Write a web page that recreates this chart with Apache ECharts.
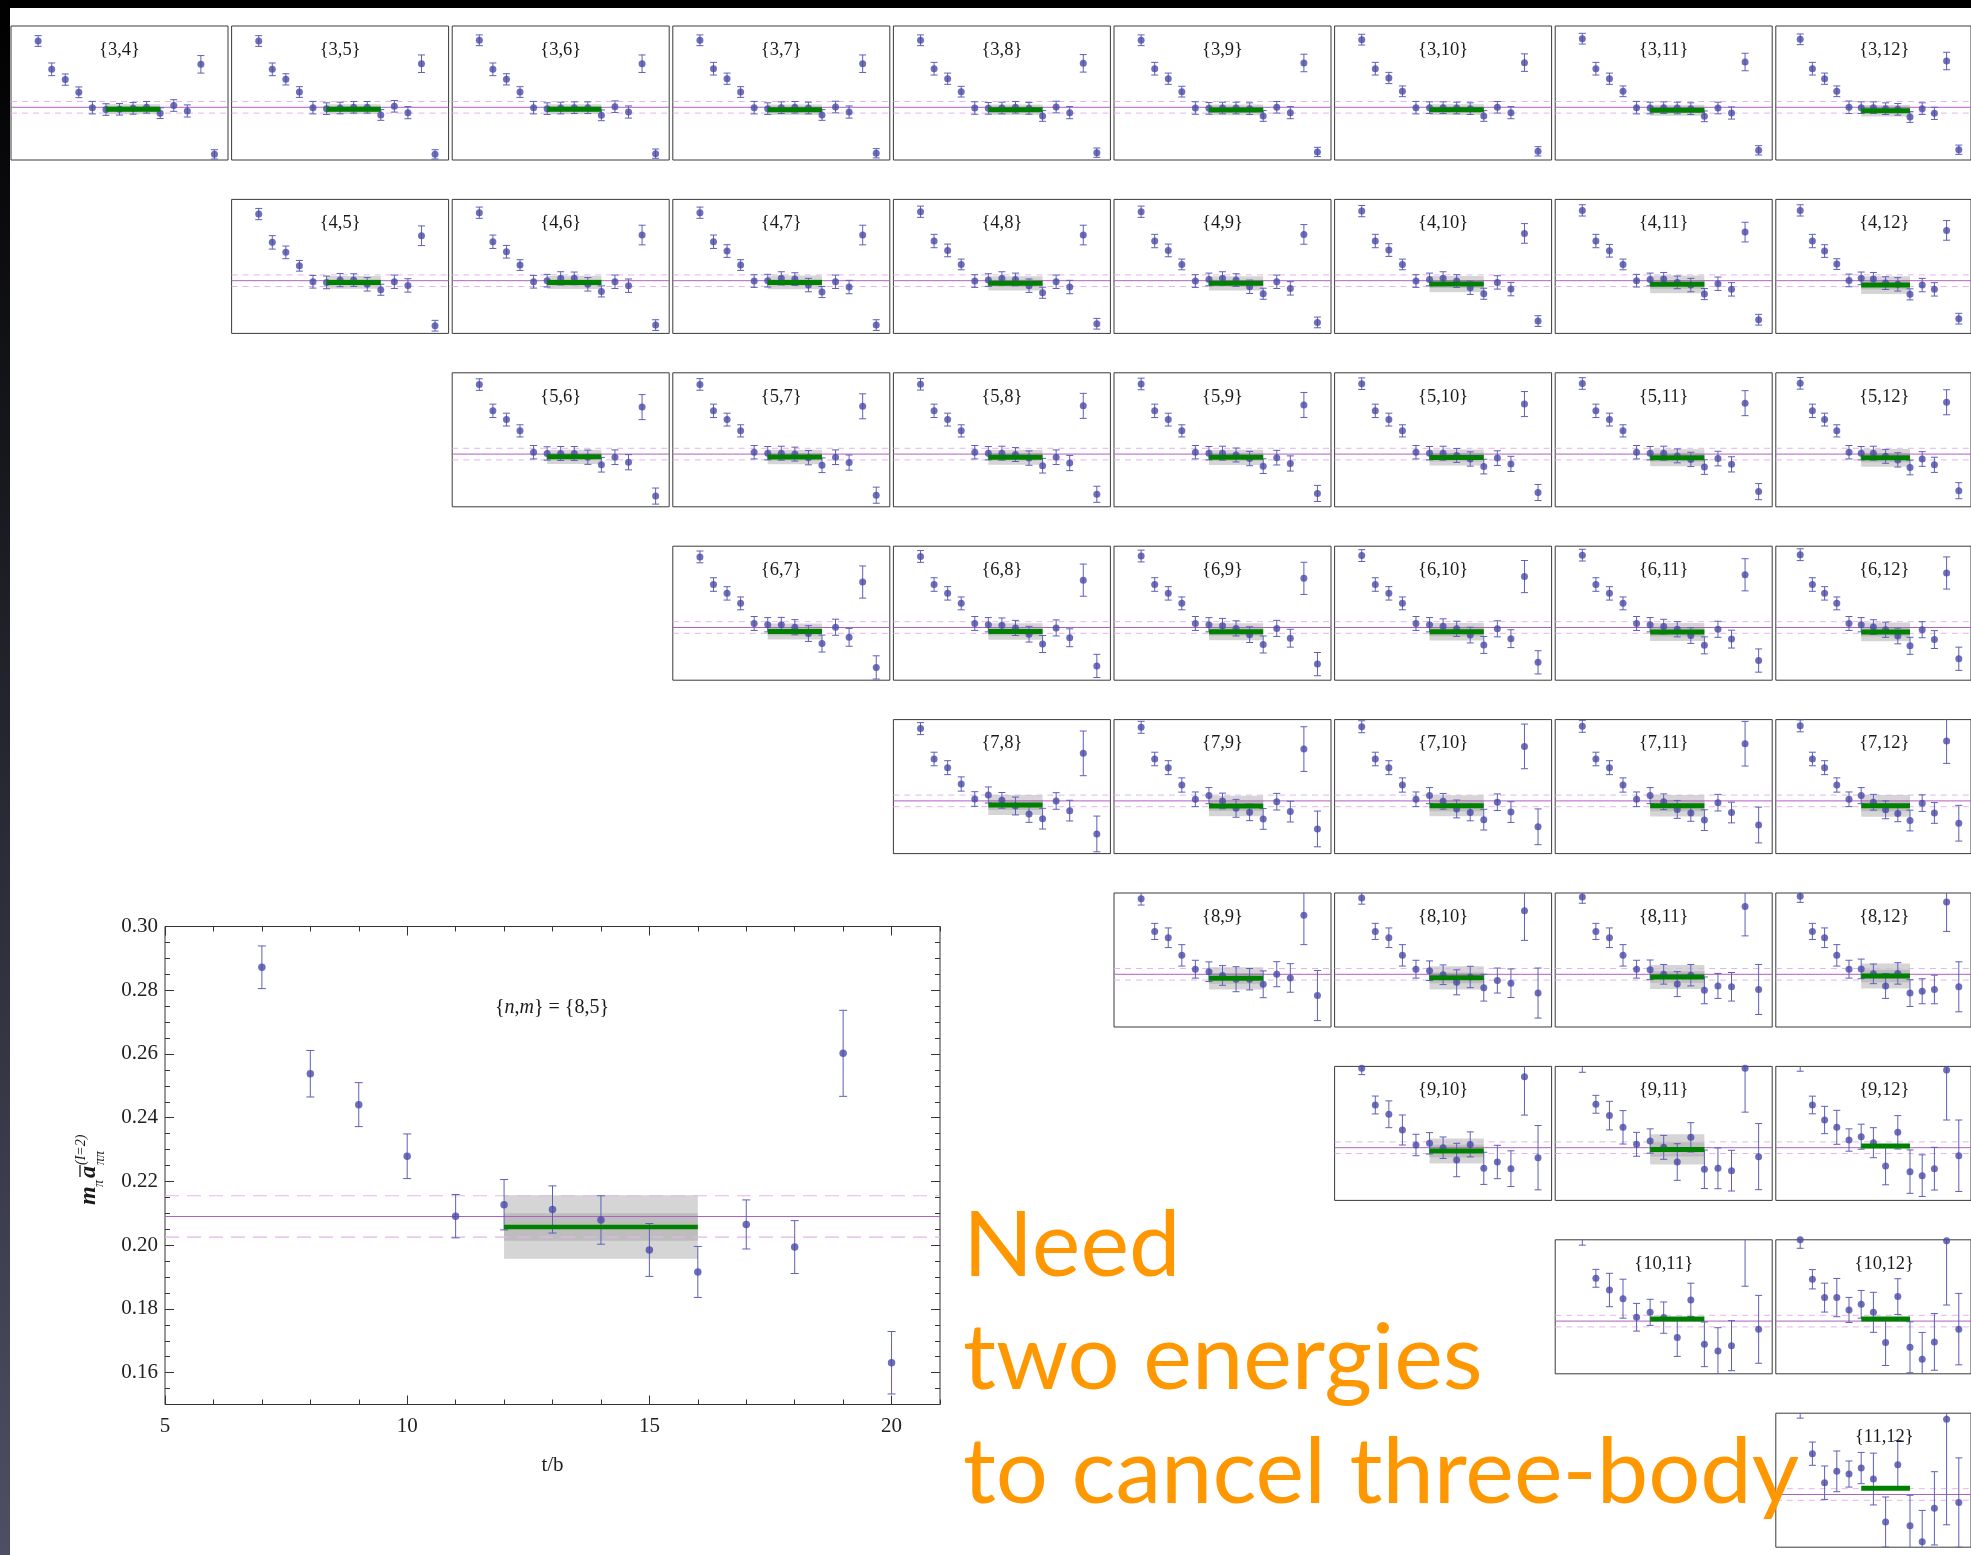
<!DOCTYPE html>
<html><head><meta charset="utf-8">
<script src="https://cdn.jsdelivr.net/npm/echarts@6/dist/echarts.min.js"></script>
<style>html,body{margin:0;padding:0;background:#fff;overflow:hidden}#c{width:1971px;height:1555px}</style>
</head><body><div id="c"></div>
<script>
// ---------------- data ----------------
const tValues = [7,8,9,10,11,12,13,14,15,16,17,18,19,20];
const fitRange = [12, 16];
const refValue = 0.209;
const refBand = [0.2025, 0.2155];
const xMajorTicks = [5, 10, 15, 20];
const yMajorTicks = [0.16, 0.18, 0.20, 0.22, 0.24, 0.26, 0.28, 0.30];

// large panel {8,5}
const mainValues = [0.2872,0.2538,0.2441,0.2279,0.2091,0.2127,0.2112,0.2079,0.1985,0.1916,0.2065,0.1994,0.2602,0.1631];
const mainErrors = [0.0067,0.0073,0.0069,0.0070,0.0068,0.0079,0.0074,0.0076,0.0083,0.0080,0.0077,0.0083,0.0135,0.0098];
const mainFit = [0.2057, 0.0100, 0.0043]; // [value, outer half-width, inner half-width]

// thumbnails: one row per n, one entry per m (m = n+1 .. 12)
const values3 = [
 [0.2832,0.2515,0.2400,0.2258,0.2086,0.2065,0.2068,0.2078,0.2090,0.2024,0.2110,0.2049,0.2571,0.1563],
 [0.2832,0.2515,0.2403,0.2261,0.2086,0.2075,0.2082,0.2090,0.2090,0.2004,0.2101,0.2030,0.2578,0.1563],
 [0.2840,0.2515,0.2403,0.2261,0.2086,0.2075,0.2082,0.2086,0.2086,0.2000,0.2097,0.2037,0.2578,0.1571],
 [0.2840,0.2522,0.2410,0.2261,0.2086,0.2075,0.2086,0.2090,0.2082,0.2004,0.2093,0.2037,0.2578,0.1575],
 [0.2840,0.2522,0.2410,0.2265,0.2082,0.2078,0.2082,0.2090,0.2078,0.1993,0.2093,0.2030,0.2582,0.1582],
 [0.2840,0.2522,0.2410,0.2265,0.2082,0.2078,0.2082,0.2082,0.2075,0.1993,0.2090,0.2030,0.2586,0.1590],
 [0.2847,0.2522,0.2418,0.2269,0.2086,0.2086,0.2086,0.2082,0.2075,0.1993,0.2090,0.2030,0.2590,0.1597],
 [0.2858,0.2522,0.2410,0.2269,0.2086,0.2082,0.2086,0.2082,0.2075,0.1989,0.2082,0.2026,0.2597,0.1608],
 [0.2851,0.2522,0.2410,0.2269,0.2090,0.2086,0.2086,0.2075,0.2067,0.1981,0.2075,0.2022,0.2608,0.1615]
];
const errors3 = [0.0060,0.0071,0.0063,0.0060,0.0070,0.0065,0.0065,0.0065,0.0065,0.0060,0.0065,0.0068,0.0098,0.0052];
const fits3 = [[0.2067,0.0056,0.003],[0.2067,0.0056,0.003],[0.2067,0.0056,0.003],[0.2063,0.0058,0.003],[0.2063,0.0058,0.003],[0.2060,0.0060,0.003],[0.2063,0.0060,0.003],[0.2056,0.0062,0.003],[0.2052,0.0064,0.003]];

const values4 = [
 [0.2836,0.2519,0.2407,0.2257,0.2078,0.2071,0.2097,0.2097,0.2049,0.1989,0.2078,0.2037,0.2593,0.1586],
 [0.2851,0.2526,0.2414,0.2265,0.2078,0.2090,0.2116,0.2116,0.2049,0.1970,0.2078,0.2034,0.2601,0.1593],
 [0.2851,0.2526,0.2422,0.2265,0.2086,0.2090,0.2116,0.2108,0.2041,0.1963,0.2078,0.2019,0.2601,0.1593],
 [0.2862,0.2534,0.2429,0.2272,0.2086,0.2097,0.2116,0.2104,0.2034,0.1955,0.2078,0.2019,0.2601,0.1608],
 [0.2862,0.2534,0.2429,0.2272,0.2086,0.2104,0.2116,0.2097,0.2022,0.1944,0.2078,0.2004,0.2608,0.1623],
 [0.2869,0.2534,0.2433,0.2272,0.2086,0.2104,0.2116,0.2086,0.2011,0.1944,0.2071,0.1996,0.2619,0.1638],
 [0.2877,0.2534,0.2425,0.2272,0.2090,0.2104,0.2108,0.2071,0.2041,0.1940,0.2056,0.1993,0.2634,0.1653],
 [0.2877,0.2534,0.2422,0.2276,0.2093,0.2116,0.2108,0.2063,0.2049,0.1937,0.2041,0.1993,0.2653,0.1665]
];
const errors4 = [0.0063,0.0075,0.0071,0.0060,0.0071,0.0071,0.0074,0.0071,0.0075,0.0062,0.0075,0.0075,0.0110,0.0060];
const fits4 = [[0.2071,0.0072,0.0035],[0.2071,0.0074,0.0035],[0.2071,0.0076,0.0035],[0.2060,0.0079,0.004],[0.2060,0.0080,0.004],[0.2052,0.0090,0.0045],[0.2049,0.0099,0.005],[0.2041,0.0100,0.005]];

const values5 = [
 [0.2868,0.2574,0.2476,0.2350,0.2111,0.2097,0.2097,0.2097,0.2055,0.1971,0.2055,0.1999,0.2616,0.1620],
 [0.2870,0.2574,0.2476,0.2350,0.2111,0.2100,0.2100,0.2090,0.2050,0.1965,0.2055,0.1995,0.2625,0.1630],
 [0.2872,0.2574,0.2476,0.2350,0.2111,0.2100,0.2100,0.2085,0.2045,0.1960,0.2055,0.1990,0.2630,0.1640],
 [0.2875,0.2574,0.2476,0.2350,0.2111,0.2100,0.2100,0.2080,0.2040,0.1955,0.2050,0.1985,0.2640,0.1650],
 [0.2878,0.2574,0.2476,0.2350,0.2111,0.2100,0.2100,0.2075,0.2035,0.1950,0.2045,0.1980,0.2650,0.1660],
 [0.2880,0.2574,0.2476,0.2350,0.2111,0.2100,0.2100,0.2070,0.2030,0.1945,0.2040,0.1975,0.2660,0.1670],
 [0.2882,0.2574,0.2476,0.2350,0.2111,0.2100,0.2100,0.2065,0.2025,0.1940,0.2035,0.1970,0.2670,0.1680]
];
const errors5 = [0.0065,0.0075,0.0072,0.0068,0.0075,0.0075,0.0078,0.0078,0.0080,0.0082,0.0082,0.0085,0.0140,0.0090];
const fits5 = [[0.2060,0.0080,0.004],[0.2058,0.0082,0.004],[0.2056,0.0084,0.004],[0.2054,0.0086,0.004],[0.2052,0.0090,0.0045],[0.2050,0.0095,0.0045],[0.2048,0.0100,0.005]];

const values6 = [
 [0.2880,0.2571,0.2472,0.2360,0.2135,0.2121,0.2121,0.2093,0.2022,0.1910,0.2093,0.1980,0.2599,0.1643],
 [0.2885,0.2571,0.2472,0.2360,0.2135,0.2121,0.2115,0.2085,0.2015,0.1905,0.2085,0.1975,0.2620,0.1660],
 [0.2890,0.2571,0.2472,0.2360,0.2135,0.2121,0.2110,0.2080,0.2010,0.1900,0.2080,0.1970,0.2640,0.1680],
 [0.2895,0.2571,0.2472,0.2360,0.2135,0.2121,0.2105,0.2075,0.2005,0.1895,0.2075,0.1965,0.2660,0.1700],
 [0.2900,0.2571,0.2472,0.2360,0.2135,0.2121,0.2100,0.2070,0.2000,0.1890,0.2070,0.1960,0.2680,0.1720],
 [0.2905,0.2571,0.2472,0.2360,0.2135,0.2121,0.2095,0.2065,0.1995,0.1885,0.2065,0.1955,0.2700,0.1740]
];
const errors6 = [0.0066,0.0076,0.0075,0.0072,0.0078,0.0080,0.0082,0.0085,0.0088,0.0095,0.0090,0.0100,0.0180,0.0130];
const fits6 = [[0.2045,0.0090,0.0045],[0.2045,0.0092,0.0045],[0.2043,0.0095,0.0045],[0.2042,0.0098,0.005],[0.2040,0.0100,0.005],[0.2040,0.0105,0.005]];

const values7 = [
 [0.2899,0.2559,0.2462,0.2279,0.2111,0.2156,0.2096,0.2033,0.1943,0.1891,0.2089,0.1981,0.2622,0.1720],
 [0.2914,0.2559,0.2462,0.2268,0.2108,0.2149,0.2089,0.2007,0.1962,0.1888,0.2081,0.1970,0.2670,0.1776],
 [0.2920,0.2559,0.2462,0.2268,0.2108,0.2149,0.2085,0.2000,0.1960,0.1880,0.2075,0.1965,0.2700,0.1800],
 [0.2925,0.2559,0.2462,0.2268,0.2108,0.2149,0.2080,0.1995,0.1955,0.1875,0.2070,0.1960,0.2730,0.1820],
 [0.2930,0.2559,0.2462,0.2268,0.2108,0.2149,0.2075,0.1990,0.1950,0.1870,0.2065,0.1955,0.2760,0.1840]
];
const errors7 = [0.0067,0.0076,0.0078,0.0080,0.0082,0.0090,0.0088,0.0100,0.0093,0.0116,0.0093,0.0116,0.0250,0.0200];
const fits7 = [[0.2044,0.0112,0.0055],[0.2033,0.0115,0.0055],[0.2035,0.0118,0.006],[0.2035,0.0120,0.006],[0.2035,0.0122,0.006]];

const values8 = [
 [0.2935,0.2570,0.2499,0.2302,0.2147,0.2119,0.2077,0.2035,0.2035,0.1978,0.2091,0.2049,0.2752,0.1852],
 [0.2945,0.2570,0.2499,0.2302,0.2147,0.2130,0.2085,0.2000,0.2060,0.1940,0.2020,0.1990,0.2800,0.1880],
 [0.2955,0.2570,0.2499,0.2302,0.2147,0.2140,0.2090,0.1980,0.2080,0.1910,0.1960,0.1950,0.2850,0.1920],
 [0.2965,0.2570,0.2499,0.2302,0.2147,0.2150,0.2095,0.1960,0.2100,0.1880,0.1900,0.1920,0.2900,0.1950]
];
const errors8 = [0.0070,0.0090,0.0110,0.0120,0.0100,0.0110,0.0110,0.0140,0.0120,0.0150,0.0140,0.0160,0.0330,0.0280];
const fits8 = [[0.2045,0.0125,0.006],[0.2050,0.0130,0.006],[0.2060,0.0135,0.0065],[0.2070,0.0140,0.007]];

const values9 = [
 [0.2978,0.2568,0.2464,0.2288,0.2120,0.2139,0.2090,0.1952,0.2127,0.1859,0.1930,0.1855,0.2885,0.1978],
 [0.3004,0.2576,0.2449,0.2318,0.2128,0.2165,0.2094,0.1930,0.2206,0.1848,0.1859,0.1833,0.2978,0.1990],
 [0.3016,0.2568,0.2400,0.2318,0.2176,0.2213,0.2146,0.1885,0.2262,0.1822,0.1777,0.1855,0.2960,0.2000]
];
const errors9 = [
 [0.0070,0.0100,0.0150,0.0168,0.0120,0.0120,0.0120,0.0187,0.0140,0.0180,0.0187,0.0200,0.0430,0.0360],
 [0.0070,0.0100,0.0160,0.0187,0.0134,0.0136,0.0134,0.0205,0.0164,0.0215,0.0228,0.0228,0.0490,0.0370],
 [0.0070,0.0099,0.0153,0.0190,0.0125,0.0140,0.0168,0.0210,0.0187,0.0243,0.0233,0.0239,0.0560,0.0400]
];
const fits9 = [[0.2053,0.0140,0.007],[0.2071,0.0170,0.008],[0.2109,0,0]];

const values10 = [
 [0.3030,0.2569,0.2438,0.2341,0.2133,0.2188,0.2129,0.1905,0.2327,0.1830,0.1756,0.1815,0.3100,0.1998],
 [0.3000,0.2558,0.2353,0.2353,0.2215,0.2278,0.2188,0.1849,0.2364,0.1797,0.1663,0.1857,0.2990,0.2000]
];
const errors10 = [
 [0.0090,0.0100,0.0187,0.0218,0.0155,0.0146,0.0175,0.0210,0.0187,0.0250,0.0260,0.0280,0.0620,0.0380],
 [0.0095,0.0108,0.0162,0.0214,0.0140,0.0155,0.0224,0.0256,0.0200,0.0285,0.0300,0.0317,0.0720,0.0400]
];
const fits10 = [[0.2114,0,0],[0.2114,0,0]];

const values11 = [
 [0.3060,0.2547,0.2222,0.2349,0.2319,0.2386,0.2263,0.1782,0.2424,0.1741,0.1562,0.1935,0.2931,0.2000]
];
const errors11 = [
 [0.0115,0.0130,0.0187,0.0228,0.0146,0.0175,0.0290,0.0280,0.0270,0.0340,0.0350,0.0410,0.1180,0.0500]
];
const fits11 = [[0.2160,0,0]];

// ---------------- styling constants ----------------
const DOT = '#4a4aa8', ERRC = '#5f5fba', GREEN = '#008000';
const REFC = '#b060c0', REFD = '#e2b6ea';
const BAND_OUT = '#d5d5d5', BAND_IN = '#bdbdbd', FRAME = '#3a3a3a';
const SERIF = '"Liberation Serif","DejaVu Serif",serif';
const PW = 217, PH = 134, COL0 = 11, ROW0 = 26, COLSTEP = 220.6, ROWSTEP = 173.4;

const rows = [
  {n:3, vals:values3, errs:errors3, fits:fits3},
  {n:4, vals:values4, errs:errors4, fits:fits4},
  {n:5, vals:values5, errs:errors5, fits:fits5},
  {n:6, vals:values6, errs:errors6, fits:fits6},
  {n:7, vals:values7, errs:errors7, fits:fits7},
  {n:8, vals:values8, errs:errors8, fits:fits8},
  {n:9, vals:values9, errs:errors9, fits:fits9},
  {n:10, vals:values10, errs:errors10, fits:fits10},
  {n:11, vals:values11, errs:errors11, fits:fits11}
];

const grids = [], xAxes = [], yAxes = [], series = [], graphics = [];

function bandRender(params, api) {
  const x0 = api.value(0), x1 = api.value(1), c = api.value(2), ho = api.value(3), hi = api.value(4);
  const a = api.coord([x0, c + ho]), b = api.coord([x1, c - ho]);
  const a2 = api.coord([x0, c + hi]), b2 = api.coord([x1, c - hi]);
  return {type:'group', children:[
    {type:'rect', shape:{x:a[0], y:a[1], width:b[0]-a[0], height:b[1]-a[1]}, style:{fill:BAND_OUT}},
    {type:'rect', shape:{x:a2[0], y:a2[1], width:b2[0]-a2[0], height:b2[1]-a2[1]}, style:{fill:BAND_IN}}
  ]};
}
function errRenderer(cap) {
  return function (params, api) {
    const x = api.value(0), y = api.value(1), e = api.value(2);
    const top = api.coord([x, y + e]), bot = api.coord([x, y - e]);
    const st = {stroke: ERRC, lineWidth: 1};
    return {type:'group', children:[
      {type:'line', shape:{x1:top[0], y1:top[1], x2:bot[0], y2:bot[1]}, style:st},
      {type:'line', shape:{x1:top[0]-cap, y1:top[1], x2:top[0]+cap, y2:top[1]}, style:st},
      {type:'line', shape:{x1:bot[0]-cap, y1:bot[1], x2:bot[0]+cap, y2:bot[1]}, style:st}
    ]};
  };
}

function addPlotSeries(xi, yi, vals, errs, fit, sz) {
  const base = {xAxisIndex:xi, yAxisIndex:yi, silent:true, animation:false};
  series.push(Object.assign({type:'custom', clip:true, z:1, renderItem:bandRender,
    data: fit[1] > 0 ? [[fitRange[0], fitRange[1], fit[0], fit[1], fit[2]]] : []}, base));
  [[refBand[0], REFD, sz.dash], [refBand[1], REFD, sz.dash], [refValue, REFC, 'solid']].forEach(function (r) {
    series.push(Object.assign({type:'line', z:2, symbol:'none', data:[[5, r[0]], [21, r[0]]],
      lineStyle:{color:r[1], width:sz.refW, type:r[2]}}, base));
  });
  series.push(Object.assign({type:'custom', clip:true, z:3, renderItem:errRenderer(sz.cap),
    data: tValues.map(function (t, i) { return [t, vals[i], errs[i]]; })}, base));
  series.push(Object.assign({type:'scatter', z:4, symbolSize:sz.dot, itemStyle:{color:DOT},
    data: tValues.map(function (t, i) { return [t, vals[i]]; })}, base));
  series.push(Object.assign({type:'line', z:5, symbol:'none', data:[[fitRange[0], fit[0]], [fitRange[1], fit[0]]],
    lineStyle:{color:GREEN, width:sz.green, cap:'butt'}}, base));
}

const thumbSize = {dot:7, cap:3.5, green:5, refW:1, dash:[6,5]};
rows.forEach(function (row) {
  row.vals.forEach(function (vals, j) {
    const n = row.n, m = n + 1 + j;
    const errs = Array.isArray(row.errs[0]) ? row.errs[j] : row.errs;
    const gi = grids.length;
    const left = COL0 + COLSTEP * (m - 4), top = ROW0 + ROWSTEP * (n - 3);
    grids.push({left:left, top:top, width:PW, height:PH, show:true, borderColor:FRAME, borderWidth:1});
    xAxes.push({gridIndex:gi, type:'value', min:5, max:21, show:false});
    yAxes.push({gridIndex:gi, type:'value', min:0.15, max:0.30, show:false});
    addPlotSeries(xAxes.length - 1, yAxes.length - 1, vals, errs, row.fits[j], thumbSize);
    graphics.push({type:'text', x:left + PW / 2, y:top + 24, z:10,
      style:{text:'{' + n + ',' + m + '}', font:'18.5px ' + SERIF, fill:'#1a1a1a', textAlign:'center', textVerticalAlign:'middle'}});
  });
});

// ---------------- big plot ----------------
const BG = {left:165, top:926.5, width:775, height:478};
const bgi = grids.length;
grids.push({left:BG.left, top:BG.top, width:BG.width, height:BG.height, show:true, borderColor:'#333', borderWidth:1});
const tickLine = {color:'#333', width:1};
const lab = {fontFamily:SERIF, fontSize:21, color:'#222'};
function xAx(pos, major) {
  const a = {gridIndex:bgi, type:'value', min:5, max:21, position:pos, axisLine:{show:false},
    splitLine:{show:false}, axisTick:{inside:true, length: major ? 9 : 5, lineStyle:tickLine}, axisLabel:{show:false}};
  if (major) { a.axisTick.customValues = xMajorTicks; a.axisLabel = Object.assign({show: pos === 'bottom', customValues:xMajorTicks, margin:11}, lab); }
  else { a.interval = 1; }
  return a;
}
function yAx(pos, major) {
  const a = {gridIndex:bgi, type:'value', min:0.15, max:0.30, position:pos, axisLine:{show:false},
    splitLine:{show:false}, axisTick:{inside:true, length: major ? 9 : 5, lineStyle:tickLine}, axisLabel:{show:false}};
  if (major) { a.axisTick.customValues = yMajorTicks; a.axisLabel = Object.assign({show: pos === 'left', customValues:yMajorTicks, margin:7,
      formatter:function (v) { return v.toFixed(2); }}, lab); }
  else { a.interval = 0.005; }
  return a;
}
const bx0 = xAxes.length;
xAxes.push(xAx('bottom', true), xAx('bottom', false), xAx('top', true), xAx('top', false));
xAxes[bx0].name = 't/b'; xAxes[bx0].nameLocation = 'middle'; xAxes[bx0].nameGap = 50;
xAxes[bx0].nameTextStyle = {fontFamily:SERIF, fontSize:21, color:'#222'};
const by0 = yAxes.length;
yAxes.push(yAx('left', true), yAx('left', false), yAx('right', true), yAx('right', false));
addPlotSeries(bx0, by0, mainValues, mainErrors, mainFit, {dot:7.5, cap:4, green:4.5, refW:1.2, dash:[14,8]});

// panel label inside the big plot
graphics.push({type:'text', x:552, y:1008, z:10, style:{
  text:'{{i|n},{i|m}} = {8,5}', font:'20px ' + SERIF, fill:'#1a1a1a', textAlign:'center', textVerticalAlign:'middle',
  rich:{i:{fontFamily:SERIF, fontSize:20, fontStyle:'italic', fill:'#1a1a1a'}}}});

// y-axis title (rotated, with stacked sub/superscript)
const INK = '#1a1a1a';
graphics.push({type:'group', x:101, y:1205, rotation:Math.PI / 2, z:10, children:[
  {type:'text', x:0, y:0, style:{text:'m', font:'italic bold 24px ' + SERIF, fill:INK, textVerticalAlign:'bottom'}},
  {type:'text', x:18, y:5, style:{text:'π', font:'italic 14px ' + SERIF, fill:INK, textVerticalAlign:'bottom'}},
  {type:'text', x:27, y:0, style:{text:'a', font:'italic bold 24px ' + SERIF, fill:INK, textVerticalAlign:'bottom'}},
  {type:'line', shape:{x1:28, y1:-21, x2:40, y2:-21}, style:{stroke:INK, lineWidth:1.3}},
  {type:'text', x:40, y:6, style:{text:'ππ', font:'italic 14px ' + SERIF, fill:INK, textVerticalAlign:'bottom'}},
  {type:'text', x:40, y:-13, style:{text:'(I=2)', font:'italic 14px ' + SERIF, fill:INK, textVerticalAlign:'bottom'}}
]});

// orange slide text
const orange = '#FF9700';
[['Need', 1246], ['two energies', 1359], ['to cancel three-body', 1473]].forEach(function (l) {
  graphics.push({type:'text', x:963, y:l[1], z:20, style:{text:l[0], font:'92px Lato, "Open Sans", sans-serif', fill:orange,
    textAlign:'left', textVerticalAlign:'middle'}});
});

// slide edges
graphics.push({type:'rect', x:0, y:0, z:30, shape:{width:1971, height:8}, style:{fill:'#000'}});
graphics.push({type:'rect', x:0, y:0, z:30, shape:{width:10, height:1555}, style:{fill:{type:'linear', x:0, y:0, x2:0, y2:1,
  colorStops:[{offset:0, color:'#000'}, {offset:1, color:'#4d5064'}]}}});

const chart = echarts.init(document.getElementById('c'), null, {renderer:'canvas', width:1971, height:1555});
chart.setOption({
  animation:false,
  backgroundColor:'#ffffff',
  grid:grids, xAxis:xAxes, yAxis:yAxes, series:series, graphic:{elements:graphics}
});
</script>
</body></html>
